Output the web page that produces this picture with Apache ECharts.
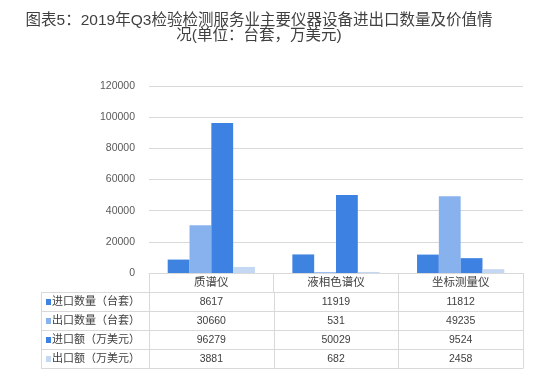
<!DOCTYPE html>
<html lang="zh">
<head>
<meta charset="UTF-8">
<title>图表5</title>
<style>
  html, body { margin: 0; padding: 0; background: #fff; }
  #chart { width: 550px; height: 377px; }
</style>
</head>
<body>
<div id="chart"></div>
<script src="https://cdn.jsdelivr.net/npm/echarts@6/dist/echarts.min.js"></script>
<script>
// 数据
var categories = ['质谱仪', '液相色谱仪', '坐标测量仪'];
var seriesNames = ['进口数量（台套）', '出口数量（台套）', '进口额（万美元）', '出口额（万美元）'];
var importQty = [8617, 11919, 11812];
var exportQty = [30660, 531, 49235];
var importValue = [96279, 50029, 9524];
var exportValue = [3881, 682, 2458];
var seriesColors = ['#3f83e0', '#88b2ee', '#3d82e2', '#c5d8f3'];
var titleLines = ['图表5：2019年Q3检验检测服务业主要仪器设备进出口数量及价值情', '况(单位：台套，万美元)'];

var seriesData = [importQty, exportQty, importValue, exportValue];

var FONT = '"Liberation Sans", "Noto Sans CJK SC", sans-serif';
var GRID = { left: 149, top: 86, width: 374, height: 187 };
var ROW_H = 19;
var TABLE_LEFT = 41;
var LINE = '#d9d9d9';
var TEXT = '#404040';

var myChart = echarts.init(document.getElementById('chart'));

var option = {
    animation: false,
    backgroundColor: '#fff',
    textStyle: { fontFamily: FONT },
    grid: { left: GRID.left, top: GRID.top, width: GRID.width, height: GRID.height },
    xAxis: {
        type: 'category',
        data: categories,
        axisLine: { lineStyle: { color: LINE } },
        axisTick: { show: true, length: ROW_H, lineStyle: { color: LINE } },
        axisLabel: { color: TEXT, fontSize: 11.5, margin: 3, lineHeight: 14, fontFamily: FONT }
    },
    yAxis: {
        type: 'value',
        min: 0,
        max: 120000,
        interval: 20000,
        axisLine: { show: false },
        axisTick: { show: false },
        axisLabel: {
            color: '#595959', fontSize: 10.5, margin: 14, fontFamily: FONT,
            formatter: function (v) { return String(v); }
        },
        splitLine: { lineStyle: { color: LINE } }
    },
    series: seriesNames.map(function (name, i) {
        return {
            name: name,
            type: 'bar',
            data: seriesData[i],
            barGap: '0%',
            barCategoryGap: '30%',
            itemStyle: { color: seriesColors[i] }
        };
    })
};
myChart.setOption(option);

// 标题和下方数据表
function buildGraphics() {
    var els = [];
    titleLines.forEach(function (t, i) {
        els.push({
            type: 'text',
            x: 259,
            y: 13 + i * 15,
            style: {
                text: t,
                fontSize: 15.5,
                fontFamily: FONT,
                fill: TEXT,
                align: 'center',
                textAlign: 'center',
                verticalAlign: 'top'
            }
        });
    });

    var centers = categories.map(function (c) {
        return myChart.convertToPixel({ xAxisIndex: 0 }, c);
    });
    var half = (centers[1] - centers[0]) / 2;
    var bounds = [centers[0] - half];
    centers.forEach(function (c) { bounds.push(c + half); });

    var right = bounds[bounds.length - 1];
    var bodyTop = GRID.top + GRID.height + ROW_H;
    var bottom = bodyTop + ROW_H * seriesData.length;

    for (var r = 0; r <= seriesData.length; r++) {
        var y = bodyTop + r * ROW_H + 0.5;
        els.push({ type: 'line', shape: { x1: TABLE_LEFT, y1: y, x2: right, y2: y }, style: { stroke: LINE, lineWidth: 1 } });
    }
    var vx = [TABLE_LEFT].concat(bounds);
    vx.forEach(function (x) {
        var px = Math.round(x) + 0.5;
        els.push({ type: 'line', shape: { x1: px, y1: bodyTop, x2: px, y2: bottom + 0.5 }, style: { stroke: LINE, lineWidth: 1 } });
    });

    seriesData.forEach(function (vals, i) {
        var cy = bodyTop + i * ROW_H + ROW_H / 2 + 0.5;
        els.push({ type: 'rect', shape: { x: 46, y: cy - 3, width: 5, height: 6 }, style: { fill: seriesColors[i] } });
        els.push({
            type: 'text', x: 52, y: cy,
            style: { text: seriesNames[i], fontSize: 11, fontFamily: FONT, fill: TEXT, align: 'left', verticalAlign: 'middle' }
        });
        vals.forEach(function (v, j) {
            els.push({
                type: 'text', x: centers[j], y: cy,
                style: { text: String(v), fontSize: 10.5, fontFamily: FONT, fill: TEXT, align: 'center', verticalAlign: 'middle' }
            });
        });
    });

    myChart.setOption({ graphic: els });
}
buildGraphics();
</script>
</body>
</html>
